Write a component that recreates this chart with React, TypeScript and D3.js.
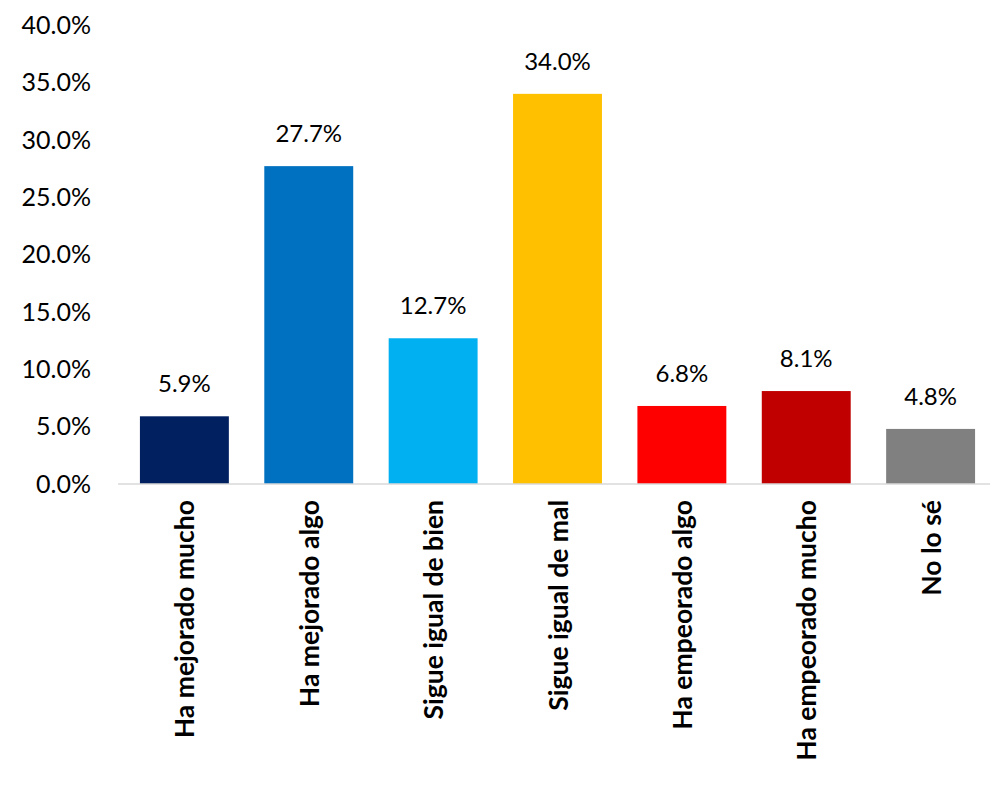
import React from "react";
import * as d3 from "d3";

const categories = ["Ha mejorado mucho","Ha mejorado algo","Sigue igual de bien","Sigue igual de mal","Ha empeorado algo","Ha empeorado mucho","No lo sé"];
const values = [5.9, 27.7, 12.7, 34.0, 6.8, 8.1, 4.8];
const colors = ["#002060","#0070C0","#00B0F0","#FFC000","#FF0000","#C00000","#808080"];
const yTicks = [0,5,10,15,20,25,30,35,40];

export default function App() {
  const W = 992, H = 800;
  const left = 125, right = 990, top = 25, bottom = 484;
  const x = d3.scaleBand<string>().domain(categories).range([left, right]).paddingInner(0.285).paddingOuter(0.12);
  const y = d3.scaleLinear().domain([0, 40]).range([bottom, top]);
  const font = "Lato, 'Open Sans', sans-serif";
  return (
    <svg width={W} height={H} style={{ position: "absolute", left: 0, top: 0 }} fontFamily={font}>
      <rect width={W} height={H} fill="#fff" />
      {yTicks.map(t => (
        <text key={t} x={91} y={y(t)} dy="0.35em" textAnchor="end" fontSize={25} fill="#000">{t.toFixed(1)}%</text>
      ))}
      {categories.map((c, i) => (
        <g key={c}>
          <rect x={x(c)} y={y(values[i])} width={x.bandwidth()} height={bottom - y(values[i])} fill={colors[i]} />
          <text x={x(c)! + x.bandwidth() / 2} y={y(values[i]) - 24} textAnchor="middle" fontSize={24} fill="#000">{values[i].toFixed(1)}%</text>
          <text transform={`translate(${x(c)! + x.bandwidth() / 2 + 10},${bottom + 16}) rotate(-90)`} textAnchor="end" fontSize={26.5} fontWeight="bold" fill="#000">{c}</text>
        </g>
      ))}
      <line x1={118} x2={right} y1={bottom} y2={bottom} stroke="#D9D9D9" strokeWidth={1.5} />
    </svg>
  );
}
